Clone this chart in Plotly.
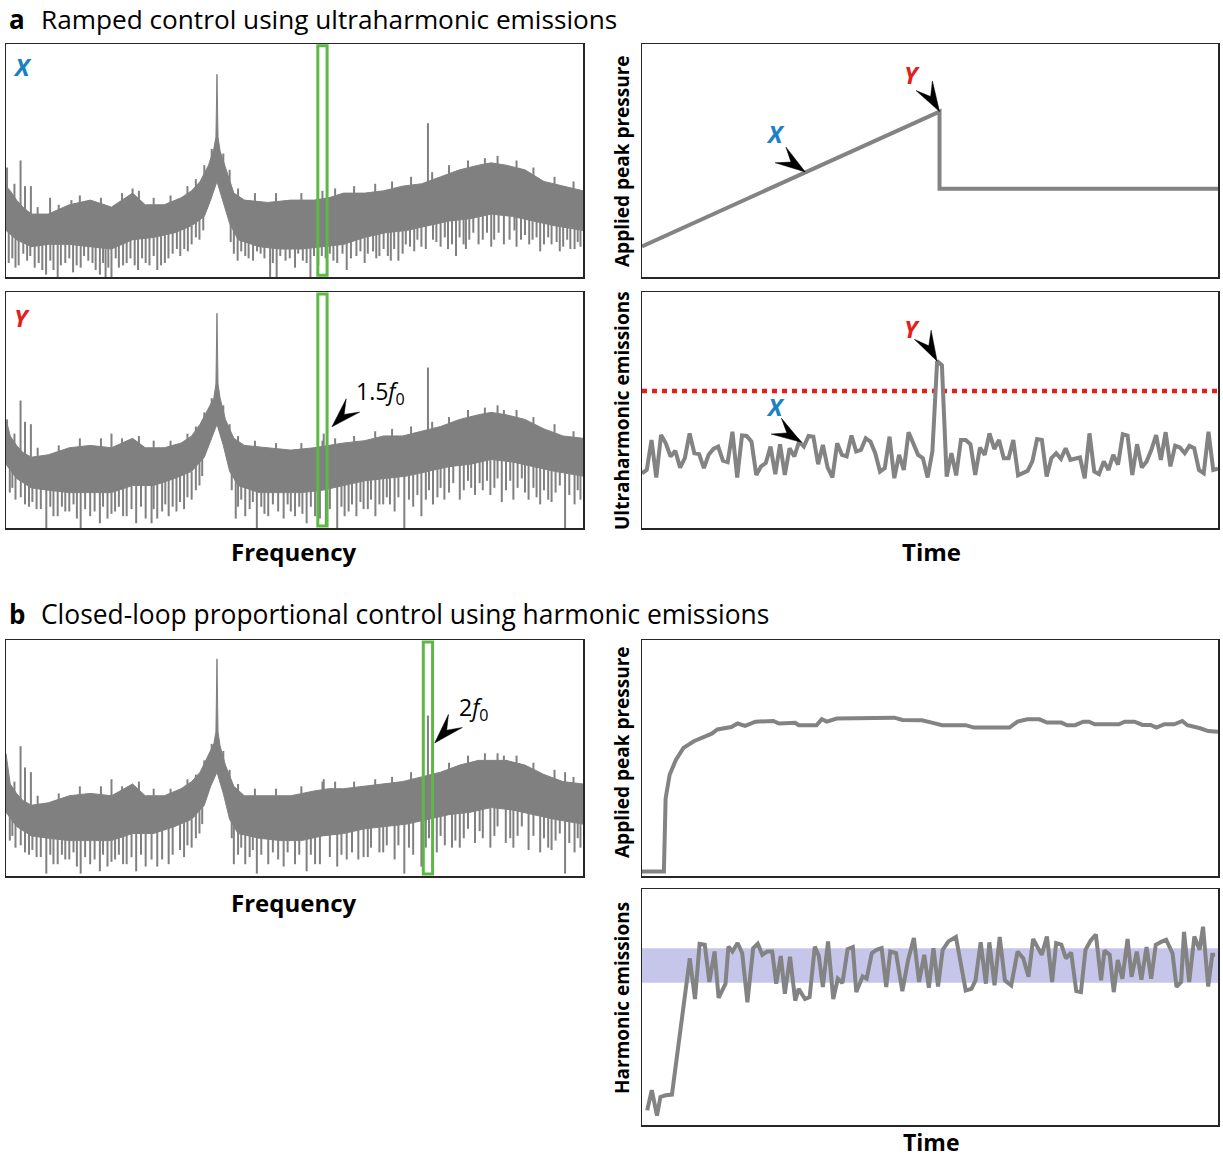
import numpy as np
import plotly.graph_objects as go

W, H = 1223, 1159
GRAY = "#808080"
FONT = "Open Sans"
BLUE = "#1a82c4"
RED = "#e3201b"
GREEN = "#5cb947"

# ---------------- spectra: frequency in units of f0, level 0-100 ----------------
F_MAX = 2.735
TOP_F = [0.0, 0.02, 0.05, 0.08, 0.12, 0.2, 0.3, 0.4, 0.5, 0.6, 0.66, 0.75, 0.83, 0.88, 0.92,
         0.96, 0.985, 0.995, 1.0, 1.005, 1.015, 1.04, 1.08, 1.13, 1.24, 1.35, 1.46, 1.53, 1.6,
         1.7, 1.79, 1.88, 1.97, 2.06, 2.15, 2.24, 2.3, 2.37, 2.46, 2.55, 2.64, 2.735]
LOW_F = [0.0, 0.05, 0.12, 0.2, 0.3, 0.41, 0.5, 0.6, 0.7, 0.8, 0.88, 0.94, 0.97, 1.0, 1.03,
         1.06, 1.1, 1.2, 1.3, 1.4, 1.5, 1.6, 1.7, 1.8, 1.9, 2.0, 2.1, 2.2, 2.3, 2.4, 2.5, 2.6, 2.735]
TICK_F = [0.04, 0.15, 0.25, 0.35, 0.45, 0.55, 0.63, 0.7, 0.78, 0.86, 0.9, 0.94, 0.975, 1.03,
          1.06, 1.1, 1.18, 1.28, 1.4, 1.5, 1.56, 1.65, 1.75, 1.83, 1.92, 2.02, 2.1, 2.19, 2.27,
          2.33, 2.42, 2.5, 2.6, 2.69]

# spectrum X (ramp, before threshold)
X_TOP = [39, 37, 33, 30, 27, 27, 31, 33, 30, 36, 31, 31, 34, 37, 41, 48, 55, 60, 87, 60, 54, 47,
         36, 33, 32, 33, 33, 34, 36, 36, 37, 39, 40, 43, 46, 48, 49, 48, 46, 41, 39, 37]
X_LOW = [20, 16, 13, 14, 14, 13, 12, 16, 17, 19, 22, 26, 33, 41, 32, 23, 16, 13, 12, 12, 13, 14,
         17, 19, 20, 22, 24, 25, 27, 26, 24, 22, 20]
X_TICK_V = [40, 30, 31, 35, 34, 36, 37, 34, 35, 39, 42, 48, 55, 53, 46, 38, 36, 36, 36, 37, 38,
            39, 40, 41, 43, 45, 48, 50, 51, 52, 50, 47, 43, 41]
X_DIP_F = [0.013, 0.03, 0.045, 0.06, 0.082, 0.10, 0.115, 0.136, 0.155, 0.172, 0.19, 0.21, 0.225,
           0.245, 0.26, 0.281, 0.3, 0.318, 0.335, 0.354, 0.37, 0.39, 0.41, 0.425, 0.445, 0.46,
           0.472, 0.485, 0.5, 0.52, 0.535, 0.555, 0.572, 0.59, 0.61, 0.626, 0.645, 0.662, 0.68,
           0.7, 0.717, 0.735, 0.753, 0.77, 0.79, 0.81, 0.826, 0.845, 0.862, 0.88, 0.9, 0.917,
           0.935, 1.065, 1.08, 1.098, 1.115, 1.134, 1.15, 1.171, 1.19, 1.207, 1.225, 1.252, 1.265,
           1.283, 1.3, 1.325, 1.345, 1.37, 1.385, 1.407, 1.425, 1.443, 1.46, 1.48, 1.497, 1.515,
           1.535, 1.552, 1.57, 1.595, 1.615, 1.635, 1.661, 1.68, 1.7, 1.715, 1.74, 1.755, 1.77,
           1.79, 1.81, 1.824, 1.84, 1.86, 1.88, 1.895, 1.915, 1.935, 1.95, 1.969, 1.99, 2.024,
           2.04, 2.06, 2.08, 2.095, 2.114, 2.133, 2.15, 2.169, 2.18, 2.196, 2.215, 2.24, 2.26,
           2.28, 2.3, 2.314, 2.335, 2.36, 2.387, 2.41, 2.42, 2.441, 2.46, 2.48, 2.496, 2.515,
           2.532, 2.55, 2.57, 2.586, 2.61, 2.625, 2.641, 2.66, 2.675, 2.695, 2.71, 2.723]
X_DIP_V = [6, 8, 4, 5, 10, 7, 9, 4, 6, 3, 1, 7, 3, 0, 5, 6, 8, 2, 5, 4, 9, 7, 6, 3, 1, 6,
           0, 4, 0, 8, 4, 5, 6, 8, 5, 3, 8, 6, 5,
           9, 3, 5, 6, 8, 10, 12, 9, 12, 11, 14, 17, 16,
           20, 15, 10, 7, 11, 9, 8, 7, 11, 10, 8, 0, 6,
           0, 9, 7, 8, 4, 10, 7, 6, 0, 9, 5, 9, 8,
           10, 7, 6, 10, 3, 8, 9, 11, 6, 10, 11, 8, 9,
           12, 9, 7, 12, 7, 10, 14, 13, 11, 16, 13, 12, 16,
           15, 13, 17, 12, 14, 9, 17, 14, 12, 16, 19, 14, 16,
           19, 13, 16, 19, 14, 16, 20, 13, 16, 18, 14, 16, 17,
           11, 14, 17, 14, 15, 11, 13, 16, 12, 12, 15, 13]
X_SPK_F = [0.005, 0.069, 0.09, 0.118, 0.209, 0.31, 0.6, 2.0]
X_SPK_V = [47, 50, 39, 39, 34, 33, 38, 66]

# spectrum Y (ramp, at threshold)
Y_TOP = [46, 39, 35, 32, 30, 31, 34, 35, 34, 38, 34, 34, 36, 39, 44, 51, 55, 61, 91, 61, 55, 46,
         38, 35, 34, 33, 34, 35, 36, 37, 39, 39, 41, 43, 46, 48, 49, 48, 46, 42, 39, 38]
Y_LOW = [27, 21, 17, 16, 15, 15, 15, 18, 18, 21, 24, 30, 37, 44, 35, 24, 18, 15, 15, 15, 16, 18,
         20, 21, 22, 24, 26, 27, 29, 28, 26, 24, 22]
Y_TICK_V = [40, 34, 35, 38, 38, 38, 39, 37, 37, 40, 43, 49, 55, 52, 44, 39, 37, 36, 36, 37, 38,
            39, 41, 42, 43, 45, 47, 50, 51, 52, 50, 47, 44, 41]
Y_DIP_F = [0.018, 0.03, 0.045, 0.07, 0.09, 0.109, 0.125, 0.145, 0.165, 0.191, 0.21, 0.225, 0.245,
           0.265, 0.281, 0.3, 0.32, 0.336, 0.354, 0.375, 0.399, 0.42, 0.445, 0.46, 0.481, 0.5,
           0.517, 0.535, 0.555, 0.572, 0.595, 0.617, 0.64, 0.662, 0.69, 0.7, 0.717, 0.74, 0.755,
           0.771, 0.79, 0.808, 0.825, 0.844, 0.86, 0.88, 0.9, 0.917, 0.93, 1.07, 1.089, 1.1,
           1.115, 1.134, 1.155, 1.17, 1.189, 1.21, 1.225, 1.243, 1.265, 1.29, 1.316, 1.335, 1.35,
           1.37, 1.39, 1.405, 1.425, 1.445, 1.465, 1.488, 1.516, 1.535, 1.57, 1.59, 1.605, 1.624,
           1.64, 1.661, 1.68, 1.695, 1.715, 1.73, 1.751, 1.77, 1.788, 1.805, 1.82, 1.842, 1.86,
           1.888, 1.91, 1.93, 1.95, 1.969, 1.99, 2.005, 2.024, 2.045, 2.06, 2.078, 2.1, 2.12,
           2.151, 2.17, 2.19, 2.205, 2.223, 2.245, 2.26, 2.28, 2.296, 2.315, 2.33, 2.35, 2.37,
           2.39, 2.405, 2.425, 2.445, 2.46, 2.477, 2.5, 2.515, 2.532, 2.55, 2.57, 2.586, 2.605,
           2.625, 2.65, 2.67, 2.695, 2.71, 2.723]
Y_DIP_V = [15, 17, 12, 13, 10, 9, 11, 8, 8, 0, 9, 5, 5, 9, 7, 7, 10, 4, 0, 8, 5, 7, 2, 9, 4, 6,
           7, 9, 5, 5, 8, 2, 9, 4, 2, 8, 4, 7, 10, 5, 9, 7, 11, 8, 13, 12, 16, 18,
           22, 16, 4, 9, 12, 5, 8, 11, 0, 9, 6, 5, 10, 7, 4, 10, 7,
           5, 9, 6, 2, 9, 5, 4, 1, 8, 0, 9, 5, 7,
           10, 5, 11, 8, 8, 12, 5, 10, 10, 13, 10, 7, 13,
           0, 12, 9, 14, 5, 12, 16, 10, 13, 17, 12, 15, 19,
           12, 16, 20, 17, 14, 19, 16, 20, 14, 17, 21, 11, 16,
           20, 12, 17, 21, 15, 12, 17, 13, 10, 16, 12, 11, 15,
           18, 0, 14, 10, 16, 12]
Y_SPK_F = [0.005, 0.069, 0.09, 0.118, 0.5, 1.506, 2.0, 2.36]
Y_SPK_V = [46, 54, 45, 44, 40, 40, 68, 50]

# spectrum b (closed loop)
B_TOP = [52, 39, 35, 32, 30, 31, 34, 35, 34, 39, 34, 34, 37, 40, 44, 51, 56, 61, 92, 61, 55, 47,
         38, 34, 34, 34, 36, 37, 37, 38, 39, 40, 42, 44, 47, 49, 49, 49, 47, 43, 40, 39]
B_LOW = [27, 21, 17, 16, 15, 15, 15, 18, 18, 21, 24, 30, 38, 44, 35, 24, 18, 16, 15, 15, 17, 18,
         20, 21, 22, 24, 26, 27, 29, 28, 26, 24, 22]
B_TICK_V = [40, 34, 35, 38, 38, 38, 40, 37, 37, 41, 43, 49, 56, 53, 45, 39, 37, 37, 38, 40, 40,
            40, 41, 42, 44, 46, 48, 51, 52, 52, 51, 48, 45, 42]
B_DIP_F = [0.018, 0.03, 0.045, 0.07, 0.09, 0.109, 0.125, 0.145, 0.165, 0.191, 0.21, 0.225, 0.245,
           0.265, 0.281, 0.3, 0.32, 0.336, 0.354, 0.375, 0.399, 0.42, 0.445, 0.46, 0.481, 0.5,
           0.517, 0.535, 0.555, 0.572, 0.595, 0.617, 0.64, 0.662, 0.69, 0.717, 0.74, 0.771, 0.79,
           0.825, 0.844, 0.86, 0.88, 0.9, 0.917, 0.93, 1.07, 1.08, 1.1, 1.115, 1.134, 1.155, 1.17,
           1.189, 1.21, 1.243, 1.265, 1.29, 1.316, 1.335, 1.37, 1.39, 1.425, 1.445, 1.465, 1.488,
           1.535, 1.57, 1.59, 1.615, 1.64, 1.67, 1.695, 1.715, 1.73, 1.77, 1.788, 1.805, 1.842,
           1.86, 1.888, 1.91, 1.93, 1.969, 1.99, 2.005, 2.042, 2.06, 2.08, 2.114, 2.13, 2.151,
           2.17, 2.19, 2.223, 2.245, 2.26, 2.296, 2.315, 2.33, 2.369, 2.39, 2.405, 2.425, 2.445,
           2.477, 2.5, 2.532, 2.55, 2.57, 2.586, 2.605, 2.625, 2.65, 2.67, 2.695, 2.71, 2.723]
B_DIP_V = [15, 17, 12, 13, 10, 9, 11, 8, 8, 1, 9, 5, 5, 9, 7, 7, 10, 4, 1, 8, 5, 7, 2, 9, 4, 6,
           7, 9, 5, 5, 8, 2, 9, 4, 7, 4, 7, 5, 9,
           11, 8, 13, 12, 16, 18, 22, 16, 5, 9, 12, 5, 8, 11,
           1, 9, 5, 10, 7, 4, 10, 5, 9, 2, 9, 5, 5,
           8, 4, 9, 7, 10, 7, 8, 8, 12, 10, 10, 13, 7,
           13, 1, 12, 9, 4, 12, 16, 10, 17, 13, 12, 15, 12,
           16, 20, 14, 19, 16, 12, 17, 21, 14, 16, 12, 17, 21,
           11, 17, 10, 16, 12, 11, 15, 18, 1, 14, 10, 16, 12]
B_SPK_F = [0.069, 0.09, 0.118, 0.5, 1.506, 2.0, 2.36, 2.65]
B_SPK_V = [55, 46, 44, 41, 41, 68, 51, 44]

BAND_A = 1.5   # ultraharmonic window (f0 units)
BAND_B = 2.0   # harmonic window
BAND_HALF = 0.022

# ---------------- panel a, time traces ----------------
PA_T = [0, 62.5, 62.5, 121]
PA_V = [13.1, 71.0, 37.9, 37.9]
UH_V = [23.2, 24.6, 37.3, 21.4, 39.4, 35.9, 30.3, 32.7, 25.6, 29.6,
        40.1, 31.7, 31.3, 25.4, 31.0, 33.5, 34.5, 28.5, 27.9, 40.8,
        21.4, 39.2, 39.0, 36.6, 22.5, 26.1, 27.5, 34.5, 22.8, 35.5,
        22.5, 33.8, 30.3, 36.6, 34.5, 39.0, 38.7, 27.0, 35.2, 25.6,
        21.4, 35.9, 31.0, 30.3, 39.2, 32.4, 33.1, 38.0, 36.6, 31.7,
        23.9, 25.4, 38.7, 21.1, 31.0, 24.6, 40.6, 35.2, 31.0, 29.6,
        21.4, 32.4, 70.7, 69.0, 21.8, 31.7, 22.3, 37.3, 37.3, 35.5,
        22.5, 34.1, 31.0, 40.1, 33.5, 37.3, 29.6, 29.6, 37.3, 22.3,
        23.2, 24.2, 28.2, 37.7, 37.3, 21.8, 29.6, 31.7, 29.3, 33.8,
        28.9, 29.6, 29.9, 21.1, 40.1, 23.9, 22.8, 28.2, 24.6, 31.0,
        26.8, 39.7, 39.2, 22.5, 35.5, 25.6, 28.2, 33.1, 39.4, 28.9,
        40.6, 26.1, 34.9, 34.1, 31.7, 34.8, 33.8, 24.6, 23.2, 40.8,
        24.6, 25.1]
UH_THRESHOLD = 58

# ---------------- panel b, time traces ----------------
PB_T = [0, 3.8, 4.1, 4.8, 5.9, 7.2, 9.0, 10.7, 12.1, 13.1, 15.5, 16.6, 17.9, 19.7, 22.8, 23.8,
        26.6, 27.2, 30.3, 31.2, 32.1, 33.8, 37.6, 43.8, 45.2, 48.6, 50.3, 52.1, 56.2, 57.6, 63.8,
        65.2, 66.9, 69.0, 70.3, 72.8, 73.8, 75.2, 76.6, 77.6, 78.6, 82.8, 83.8, 85.5, 86.9, 88.3,
        89.3, 90.7, 92.4, 93.8, 94.7, 95.9, 96.9, 98.3, 100]
PB_V = [1.9, 1.9, 32.9, 42.9, 49.3, 54.3, 57.1, 58.9, 60.3, 62.1, 63.1, 64.6, 63.6, 65.4, 65.7,
        64.6, 64.9, 63.9, 63.9, 66.4, 65.4, 66.7, 66.9, 67.1, 66.1, 66.0, 65.0, 63.9, 63.9, 62.9,
        62.9, 65.4, 66.4, 66.4, 65.0, 65.0, 63.9, 63.9, 65.4, 65.4, 64.3, 64.3, 65.4, 65.4, 64.0,
        64.0, 62.9, 64.3, 64.3, 65.7, 63.9, 63.3, 62.6, 61.4, 61.1]
HB_T = [0.9, 1.7, 2.6, 3.2, 4.1, 5.2, 8.3, 9.2, 10.0, 10.9, 11.7, 12.6, 13.3, 14.5, 15.0, 15.7,
        16.6, 17.4, 18.3, 19.3, 20.1, 20.9, 21.7, 22.6, 23.3, 24.1, 24.8, 25.7, 26.6, 27.2, 28.3,
        29.1, 30.0, 30.7, 31.4, 32.3, 33.2, 34.0, 34.8, 35.7, 36.6, 37.2, 38.3, 39.0, 39.9, 40.7,
        41.6, 42.4, 43.1, 44.1, 45.2, 46.2, 47.2, 48.1, 49.0, 49.8, 50.6, 51.4, 52.2, 53.2, 54.5,
        56.2, 57.2, 57.9, 58.8, 59.7, 60.3, 61.2, 62.1, 63.0, 64.1, 65.2, 66.2, 67.1, 67.9, 68.6,
        69.4, 70.3, 71.2, 71.9, 72.8, 73.6, 74.5, 75.4, 76.2, 77.0, 77.9, 78.8, 79.7, 80.3, 81.2,
        81.9, 82.6, 83.4, 84.3, 85.0, 85.9, 86.7, 87.6, 88.4, 89.2, 90.3, 91.0, 92.1, 92.8, 93.6,
        94.1, 95.0, 95.9, 96.8, 97.4, 98.3, 99.0, 99.5]
HB_V = [6.2, 14.8, 4.0, 11.9, 12.6, 12.9, 70.6, 53.4, 76.8, 76.4, 60.6, 73.5, 53.9, 59.9, 75.6,
        73.5, 77.1, 72.8, 52.0, 74.9, 76.8, 72.1, 73.5, 73.5, 59.9, 71.6, 55.6, 71.3, 52.7, 57.7,
        53.4, 54.2, 75.6, 71.6, 58.5, 77.8, 53.4, 62.0, 60.2, 74.5, 75.4, 56.3, 63.0, 62.0, 72.8,
        74.2, 74.9, 58.5, 73.5, 72.8, 56.7, 69.9, 79.2, 60.6, 72.1, 58.2, 74.9, 58.7, 74.2, 77.8,
        79.7, 57.0, 57.7, 61.3, 77.4, 59.9, 77.4, 59.2, 79.7, 61.3, 59.2, 73.5, 70.6, 62.8, 78.8,
        75.6, 72.1, 79.9, 60.6, 77.1, 76.4, 70.6, 73.1, 56.7, 56.3, 74.2, 78.2, 80.7, 61.3, 73.9,
        72.1, 56.3, 69.9, 62.0, 78.8, 62.8, 73.5, 61.6, 75.4, 62.0, 76.4, 77.8, 78.5, 72.8, 58.5,
        60.6, 81.8, 60.6, 79.9, 74.2, 84.0, 58.7, 72.1, 72.1]
HB_TARGET = [60.3, 74.9]

# ---------------- layout helpers ----------------
def px(x):
    return x / W


def py(y):
    return 1 - y / H


LEFT = [px(6), px(583)]
RIGHT = [px(642), px(1218)]
ROW_A1 = [py(277), py(44)]
ROW_A2 = [py(528), py(292)]
ROW_B1 = [py(876), py(640)]
ROW_B2 = [py(1125), py(889)]


def axis(domain, rng, anchor):
    return dict(domain=domain, range=rng, anchor=anchor, showticklabels=False, ticks="",
                showgrid=False, zeroline=False, showline=True, mirror=True,
                linecolor="#262626", linewidth=1.5, fixedrange=True)


fig = go.Figure()


def spectrum(top_v, low_v, tick_v, dip_f, dip_v, spk_f, spk_v, xa, ya):
    poly_x = TOP_F + LOW_F[::-1]
    poly_y = top_v + low_v[::-1]
    fig.add_trace(go.Scatter(x=poly_x, y=poly_y, fill="toself", fillcolor=GRAY, mode="lines",
                             line=dict(color=GRAY, width=1), xaxis=xa, yaxis=ya,
                             hoverinfo="skip", showlegend=False))
    sx, sy = [], []
    for f, v in zip(dip_f, dip_v):
        i = int(np.clip(np.searchsorted(LOW_F, f), 1, len(LOW_F) - 1))
        base = max(low_v[i - 1], low_v[i])
        sx += [f, f, None]
        sy += [v, base, None]
    for f, v in zip(list(spk_f) + TICK_F, list(spk_v) + list(tick_v)):
        i = int(np.clip(np.searchsorted(TOP_F, f), 1, len(TOP_F) - 1))
        base = min(top_v[i - 1], top_v[i])
        sx += [f, f, None]
        sy += [base, v, None]
    fig.add_trace(go.Scatter(x=sx, y=sy, mode="lines", line=dict(color=GRAY, width=2),
                             xaxis=xa, yaxis=ya, hoverinfo="skip", showlegend=False))


spectrum(X_TOP, X_LOW, X_TICK_V, X_DIP_F, X_DIP_V, X_SPK_F, X_SPK_V, "x", "y")
spectrum(Y_TOP, Y_LOW, Y_TICK_V, Y_DIP_F, Y_DIP_V, Y_SPK_F, Y_SPK_V, "x2", "y2")
spectrum(B_TOP, B_LOW, B_TICK_V, B_DIP_F, B_DIP_V, B_SPK_F, B_SPK_V, "x3", "y3")

LINE = dict(color="#838383", width=4)
fig.add_trace(go.Scatter(x=PA_T, y=PA_V, mode="lines", line=LINE, xaxis="x4", yaxis="y4",
                         showlegend=False))
fig.add_trace(go.Scatter(x=[0, len(UH_V) - 1], y=[UH_THRESHOLD, UH_THRESHOLD], mode="lines",
                         line=dict(color=RED, width=4.5, dash="5px,5px"), xaxis="x5", yaxis="y5",
                         showlegend=False))
fig.add_trace(go.Scatter(x=list(range(len(UH_V))), y=UH_V, mode="lines", line=LINE,
                         xaxis="x5", yaxis="y5", showlegend=False))
fig.add_trace(go.Scatter(x=PB_T, y=PB_V, mode="lines", line=LINE, xaxis="x6", yaxis="y6",
                         showlegend=False))
fig.add_trace(go.Scatter(x=HB_T, y=HB_V, mode="lines", line=LINE, xaxis="x7", yaxis="y7",
                         showlegend=False))

shapes = [
    dict(type="rect", xref="x", yref="y domain", x0=BAND_A - BAND_HALF, x1=BAND_A + BAND_HALF,
         y0=0.008, y1=0.992, line=dict(color=GREEN, width=3), layer="above"),
    dict(type="rect", xref="x2", yref="y2 domain", x0=BAND_A - BAND_HALF, x1=BAND_A + BAND_HALF,
         y0=0.008, y1=0.992, line=dict(color=GREEN, width=3), layer="above"),
    dict(type="rect", xref="x3", yref="y3 domain", x0=BAND_B - BAND_HALF, x1=BAND_B + BAND_HALF,
         y0=0.008, y1=0.992, line=dict(color=GREEN, width=3), layer="above"),
    dict(type="rect", xref="x7 domain", yref="y7", x0=0, x1=1, y0=HB_TARGET[0], y1=HB_TARGET[1],
         fillcolor="#c6c6ea", line=dict(width=0), layer="below"),
]


def arrowhead(xr, yr, x, y, ux, uy, length=30, half=9.5, notch=0.58):
    # ux, uy: unit vector from the tip towards the tail, screen pixels (y down)
    nx, ny = -uy, ux
    pts = [(0, 0), (length * ux + half * nx, length * uy + half * ny),
           (notch * length * ux, notch * length * uy),
           (length * ux - half * nx, length * uy - half * ny)]
    path = "M " + " L ".join(f"{a:.2f},{-b:.2f}" for a, b in pts) + " Z"
    shapes.append(dict(type="path", xref=xr, yref=yr, xsizemode="pixel", ysizemode="pixel",
                       xanchor=x, yanchor=y, path=path, fillcolor="black",
                       line=dict(color="black", width=0.5), layer="above"))


arrowhead("x4", "y4", 34.3, 45.1, -0.825, -0.566)
arrowhead("x4", "y4", 62.5, 71.0, -0.51, -0.86)
arrowhead("x5", "y5", 33.5, 36.3, -0.84, -0.54)
arrowhead("x5", "y5", 62, 70.7, -0.48, -0.88)
arrowhead("x2", "y2", 1.545, 42.9, 0.70, -0.71)
arrowhead("x3", "y3", 2.032, 56.4, 0.69, -0.73)

ann = []


def text(x, y, s, size, color="black", xanchor="center", angle=0):
    ann.append(dict(x=px(x), y=py(y), xref="paper", yref="paper", text=s, showarrow=False,
                    xanchor=xanchor, yanchor="middle", textangle=angle,
                    font=dict(family=FONT, size=size, color=color)))


# titles
text(7, 19, "<b>a</b>", 26, xanchor="left")
text(39, 19, "Ramped control using ultraharmonic emissions", 26.2, xanchor="left")
text(7, 614, "<b>b</b>", 26, xanchor="left")
text(39, 614, "Closed-loop proportional control using harmonic emissions", 26.4, xanchor="left")

# axis titles
text(294, 551, "<b>Frequency</b>", 24)
text(294, 902, "<b>Frequency</b>", 24)
text(931, 551, "<b>Time</b>", 24)
text(931, 1142, "<b>Time</b>", 23)
text(622, 161, "<b>Applied peak pressure</b>", 19, angle=-90)
text(622, 411, "<b>Ultraharmonic emissions</b>", 19, angle=-90)
text(622, 752, "<b>Applied peak pressure</b>", 19, angle=-90)
text(622, 998, "<b>Harmonic emissions</b>", 19, angle=-90)

# panel labels
text(22, 66, "<b><i>X</i></b>", 24, color=BLUE)
text(22, 317, "<b><i>Y</i></b>", 24, color=RED)
text(775, 133, "<b><i>X</i></b>", 24, color=BLUE)
text(912, 75, "<b><i>Y</i></b>", 24, color=RED)
text(775, 407, "<b><i>X</i></b>", 24, color=BLUE)
text(912, 328, "<b><i>Y</i></b>", 24, color=RED)
text(354, 392, "1.5<i>f</i><sub>0</sub>", 23, xanchor="left")
text(457, 708, "2<i>f</i><sub>0</sub>", 23, xanchor="left")

n_uh = len(UH_V) - 1
fig.update_layout(
    width=W, height=H, margin=dict(l=0, r=0, t=0, b=0),
    paper_bgcolor="white", plot_bgcolor="white", showlegend=False,
    xaxis=axis(LEFT, [0, F_MAX], "y"), yaxis=axis(ROW_A1, [0, 100], "x"),
    xaxis2=axis(LEFT, [0, F_MAX], "y2"), yaxis2=axis(ROW_A2, [0, 100], "x2"),
    xaxis3=axis(LEFT, [0, F_MAX], "y3"), yaxis3=axis(ROW_B1, [0, 100], "x3"),
    xaxis4=axis(RIGHT, [0, n_uh], "y4"), yaxis4=axis(ROW_A1, [0, 100], "x4"),
    xaxis5=axis(RIGHT, [0, n_uh], "y5"), yaxis5=axis(ROW_A2, [0, 100], "x5"),
    xaxis6=axis(RIGHT, [0, 100], "y6"), yaxis6=axis(ROW_B1, [0, 100], "x6"),
    xaxis7=axis(RIGHT, [0, 100], "y7"), yaxis7=axis(ROW_B2, [0, 100], "x7"),
    shapes=shapes, annotations=ann,
)

fig.write_html("out.html", config={"displayModeBar": False, "staticPlot": True},
               post_script="document.body.style.margin='0';document.body.style.overflow='hidden';")
